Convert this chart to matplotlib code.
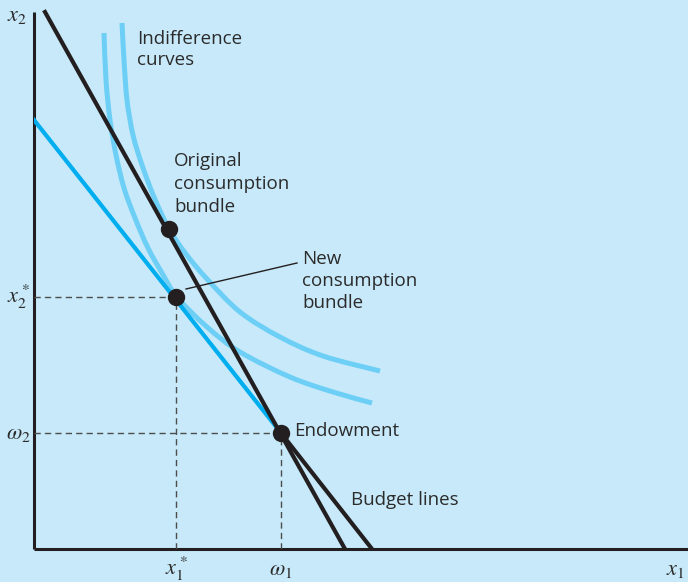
import matplotlib
matplotlib.use('Agg')
from matplotlib import pyplot as plt
from matplotlib.path import Path
from matplotlib.patches import PathPatch

# coordinates: origin at the corner of the axes, units roughly pixels
endowment = (247, 116)
original_bundle = (135, 320)
new_bundle = (142, 252)

# original budget line (steep, black)
budget_orig_x = [11, 311]
budget_orig_y = [537, 0]
# new budget line: blue part above endowment, black part below
budget_new_upper_x = [0, 247]
budget_new_upper_y = [429, 116]
budget_new_lower_x = [247, 338]
budget_new_lower_y = [116, 0]

# indifference curves
outer_x = [88, 90, 93, 99, 108, 120, 135, 152, 173, 206, 246, 289, 346]
outer_y = [526, 489, 449, 414, 384, 352, 320, 295, 270, 237, 212, 193, 178]
inner_x = [70, 72, 76, 82, 90, 101, 114, 128, 143, 173, 206, 256, 299, 338]
inner_y = [516, 469, 429, 394, 361, 331, 301, 276, 252, 222, 197, 172, 157, 146]

bg = '#c7e9f9'
dark = '#231f20'
curve_blue = '#6dcff6'
line_blue = '#00aeef'
text_col = '#2b2b2b'

plt.rcParams['font.family'] = ['Open Sans', 'DejaVu Sans']
plt.rcParams['mathtext.fontset'] = 'stix'


def smooth_path(xs, ys):
    # catmull-rom through the read points, drawn as cubic bezier segments
    pts = list(zip(xs, ys))
    ext = [pts[0]] + pts + [pts[-1]]
    verts = [pts[0]]
    codes = [Path.MOVETO]
    for i in range(1, len(ext) - 2):
        p0, p1, p2, p3 = ext[i - 1], ext[i], ext[i + 1], ext[i + 2]
        c1 = (p1[0] + (p2[0] - p0[0]) / 6, p1[1] + (p2[1] - p0[1]) / 6)
        c2 = (p2[0] - (p3[0] - p1[0]) / 6, p2[1] - (p3[1] - p1[1]) / 6)
        verts += [c1, c2, p2]
        codes += [Path.CURVE4] * 3
    return Path(verts, codes)


fig = plt.figure(figsize=(6.88, 5.82), dpi=100, facecolor=bg)
ax = fig.add_axes([34 / 688, 33 / 582, 654 / 688, 549 / 582])
ax.set_xlim(0, 654)
ax.set_ylim(0, 549)
ax.axis('off')

# axes
ax.plot([0, 0], [0, 537], color=dark, lw=2.2, solid_capstyle='butt', clip_on=False)
ax.plot([0, 654], [0, 0], color=dark, lw=2.2, solid_capstyle='butt', clip_on=False)

# indifference curves
for cx, cy in [(outer_x, outer_y), (inner_x, inner_y)]:
    ax.add_patch(PathPatch(smooth_path(cx, cy), facecolor='none',
                           edgecolor=curve_blue, lw=3.6, capstyle='butt'))

# budget lines
ax.plot(budget_new_upper_x, budget_new_upper_y, color=line_blue, lw=3.0)
ax.plot(budget_new_lower_x, budget_new_lower_y, color=dark, lw=3.0)
ax.plot(budget_orig_x, budget_orig_y, color=dark, lw=3.0)

# dashed guides
for px, py in [new_bundle, endowment]:
    ax.plot([0, px], [py, py], color='#4d4d4d', lw=1.0, dashes=(4.5, 3))
    ax.plot([px, px], [0, py], color='#4d4d4d', lw=1.0, dashes=(4.5, 3))

# bundles
for p in [original_bundle, new_bundle, endowment]:
    ax.plot(p[0], p[1], 'o', color=dark, markersize=11.5, zorder=5)

# leader line for new bundle
ax.plot([new_bundle[0] + 10, 263], [new_bundle[1] + 8, 286], color=dark, lw=1.0)

fs = 13.5
ax.text(103, 519, 'Indifference\ncurves', fontsize=fs, color=text_col,
        va='top', ha='left', linespacing=1.2)
ax.text(140, 397, 'Original\nconsumption\nbundle', fontsize=fs, color=text_col,
        va='top', ha='left', linespacing=1.35)
ax.text(268, 299, 'New\nconsumption\nbundle', fontsize=fs, color=text_col,
        va='top', ha='left', linespacing=1.3)
ax.text(260, 118, 'Endowment', fontsize=fs, color=text_col, va='center', ha='left')
ax.text(317, 49, 'Budget lines', fontsize=fs, color=text_col, va='center', ha='left')

# axis labels
ms = 16
ax.text(-17, 534, r'$x_2$', fontsize=ms, color=text_col, ha='center', va='center')
ax.text(641, -20, r'$x_1$', fontsize=ms, color=text_col, ha='center', va='center')
ax.text(-16, new_bundle[1], r'$x_2^*$', fontsize=ms, color=text_col, ha='center', va='center')
ax.text(-16, endowment[1], r'$\omega_2$', fontsize=ms, color=text_col, ha='center', va='center')
ax.text(new_bundle[0], -20, r'$x_1^*$', fontsize=ms, color=text_col, ha='center', va='center')
ax.text(endowment[0], -20, r'$\omega_1$', fontsize=ms, color=text_col, ha='center', va='center')

fig.savefig('out.png', dpi=100, facecolor=bg)
